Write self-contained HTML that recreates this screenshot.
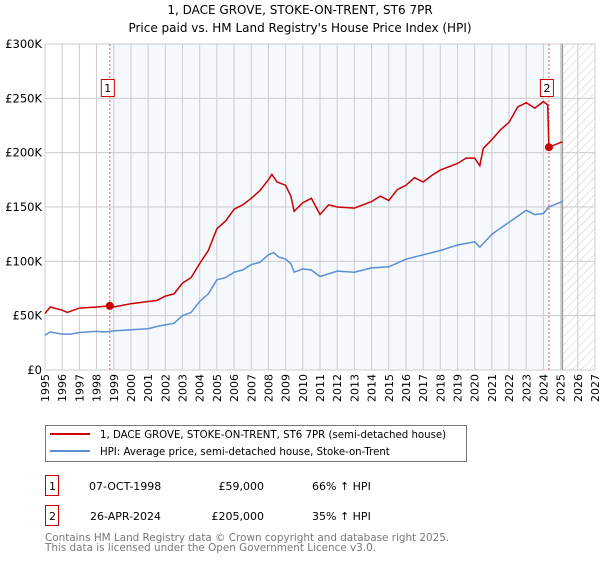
<!DOCTYPE html>
<html><head><meta charset="utf-8"><style>
body{margin:0;background:#fff;font-family:"Liberation Sans","DejaVu Sans",sans-serif;}
svg text{font-family:"DejaVu Sans","Liberation Sans",sans-serif;}
</style></head><body>
<svg id="c" width="600" height="560" xmlns="http://www.w3.org/2000/svg">
<defs><pattern id="hatch" width="6" height="6" patternUnits="userSpaceOnUse" patternTransform="rotate(45)"><line x1="0" y1="0" x2="0" y2="6" stroke="#ccc" stroke-width="1"/></pattern></defs>
<text x="300" y="14" text-anchor="middle" font-size="12">1, DACE GROVE, STOKE-ON-TRENT, ST6 7PR</text>
<text x="300" y="32" text-anchor="middle" font-size="12">Price paid vs. HM Land Registry's House Price Index (HPI)</text>
<g id="plot"></g>
<g>
<rect x="45.5" y="425.5" width="421" height="36" fill="#fff" stroke="#777"/>
<line x1="50" y1="434" x2="90" y2="434" stroke="#cc0000" stroke-width="2"/>
<text x="100" y="438" font-size="10.2">1, DACE GROVE, STOKE-ON-TRENT, ST6 7PR (semi-detached house)</text>
<line x1="50" y1="451" x2="90" y2="451" stroke="#5b8fd6" stroke-width="2"/>
<text x="100" y="455" font-size="10.2">HPI: Average price, semi-detached house, Stoke-on-Trent</text>
</g>
<g font-size="11">
<rect x="45.5" y="475.5" width="13" height="20" fill="#fff" stroke="#cc0000"/><text x="49" y="490">1</text>
<text x="89" y="490">07-OCT-1998</text><text x="264" y="490" text-anchor="end">£59,000</text><text x="312" y="490">66% ↑ HPI</text>
<rect x="45.5" y="505.5" width="13" height="20" fill="#fff" stroke="#cc0000"/><text x="49" y="520">2</text>
<text x="90" y="520">26-APR-2024</text><text x="264" y="520" text-anchor="end">£205,000</text><text x="312" y="520">35% ↑ HPI</text>
</g>
<text x="45" y="541" font-size="10.4" fill="#777">Contains HM Land Registry data © Crown copyright and database right 2025.</text>
<text x="45" y="551" font-size="10.4" fill="#777">This data is licensed under the Open Government Licence v3.0.</text>
</svg>
<script>
const hpiYears=[1995,1995.3,1996,1996.5,1997,1998,1998.5,1999,2000,2001,2001.5,2002,2002.5,2003,2003.5,2004,2004.5,2005,2005.5,2006,2006.5,2007,2007.5,2008,2008.3,2008.6,2009,2009.3,2009.5,2010,2010.5,2011,2012,2013,2014,2015,2016,2017,2018,2019,2020,2020.3,2021,2022,2023,2023.5,2024,2024.3,2025.1];
const hpiValues=[32,35,33,33,34.5,35.5,35,36,37,38,40,41.5,43,50,53,63,70,83,85,90,92,97,99,106,108,104,102,98,90,93,92,86,91,90,94,95,102,106,110,115,118,113,125,136,147,143,144,150,155];
const priceYears=[1995,1995.3,1996,1996.3,1997,1998,1998.77,1999,2000,2001,2001.5,2002,2002.5,2003,2003.5,2004,2004.5,2005,2005.5,2006,2006.5,2007,2007.5,2008,2008.2,2008.5,2009,2009.3,2009.5,2010,2010.5,2011,2011.5,2012,2013,2014,2014.5,2015,2015.5,2016,2016.5,2017,2017.5,2018,2019,2019.5,2020,2020.3,2020.5,2021,2021.5,2022,2022.5,2023,2023.5,2024,2024.25,2024.32,2025.1];
const priceValues=[52,58,55,53,57,58,59,58,61,63,64,68,70,80,85,98,110,130,137,148,152,158,165,175,180,173,170,160,146,154,158,143,152,150,149,155,160,156,166,170,177,173,179,184,190,195,195,188,204,212,221,228,242,246,241,247,244,205,210];
const saleYears=[1998.77,2024.32];
const saleValues=[59,205];
const yTicks=[0,50,100,150,200,250,300];
const yTickLabels=["£0","£50K","£100K","£150K","£200K","£250K","£300K"];
const xTicks=[1995,1996,1997,1998,1999,2000,2001,2002,2003,2004,2005,2006,2007,2008,2009,2010,2011,2012,2013,2014,2015,2016,2017,2018,2019,2020,2021,2022,2023,2024,2025,2026,2027];

const X0=45,X1=595,Y0=370,Y1=44;
const x=v=>X0+(v-1995)/(2027-1995)*(X1-X0);
const y=v=>Y0-(v/300)*(Y0-Y1);
const NS="http://www.w3.org/2000/svg";
const g=document.getElementById('plot');
function mk(t,a){const e=document.createElementNS(NS,t);for(const k in a)e.setAttribute(k,a[k]);g.appendChild(e);return e;}

let e=mk('rect',{x:x(saleYears[0]),y:Y1,width:x(saleYears[1])-x(saleYears[0]),height:Y0-Y1,fill:'#eef3fc',opacity:0.6});


e=mk('rect',{x:x(2025.1),y:Y1,width:X1-x(2025.1),height:Y0-Y1,fill:'url(#hatch)'});


xTicks.forEach((t,i)=>{
  const l=mk('line',{x1:x(t),x2:x(t),y1:Y1,y2:Y0,stroke:'#ccc','stroke-width':1});
  
  
  const tx=mk('text',{x:0,y:0,'font-size':11,'text-anchor':'end',transform:`translate(${x(t)+4},${Y0+4}) rotate(-90)`});
  tx.textContent=t;
  
  
});
yTicks.forEach((t,i)=>{
  const l=mk('line',{x1:X0,x2:X1,y1:y(t),y2:y(t),stroke:'#ccc','stroke-width':1});
  
  
  const tx=mk('text',{x:X0-3,y:y(t)+4,'font-size':11.5,'text-anchor':'end'});
  tx.textContent=yTickLabels[i];
  
  
});
e=mk('line',{x1:x(2025.1),x2:x(2025.1),y1:Y1,y2:Y0,stroke:'#999','stroke-width':1.5});


saleYears.forEach((s,i)=>{
  const l=mk('line',{x1:x(s),x2:x(s),y1:Y1,y2:Y0,stroke:'#e06060','stroke-width':1,'stroke-dasharray':'2,2'});
  
  
  const r=mk('rect',{x:x(s)-8.5,y:79.5,width:13,height:17,fill:'#fff',stroke:'#cc0000'});
  
  
  const t=mk('text',{x:x(s)-2,y:92,'font-size':11,'text-anchor':'middle'});
  t.textContent=String(i+1);
  
  
});
function path(xs,vs){return xs.map((v,i)=>(i?'L':'M')+x(v).toFixed(1)+','+y(vs[i]).toFixed(1)).join('');}
e=mk('path',{d:path(hpiYears,hpiValues),fill:'none',stroke:'#5b8fd6','stroke-width':1.5});


e=mk('path',{d:path(priceYears,priceValues),fill:'none',stroke:'#cc0000','stroke-width':1.5});


saleYears.forEach((s,i)=>{
  const c=mk('circle',{cx:x(s),cy:y(saleValues[i]),r:4,fill:'#cc0000'});
  
  
});
</script>
</body></html>
